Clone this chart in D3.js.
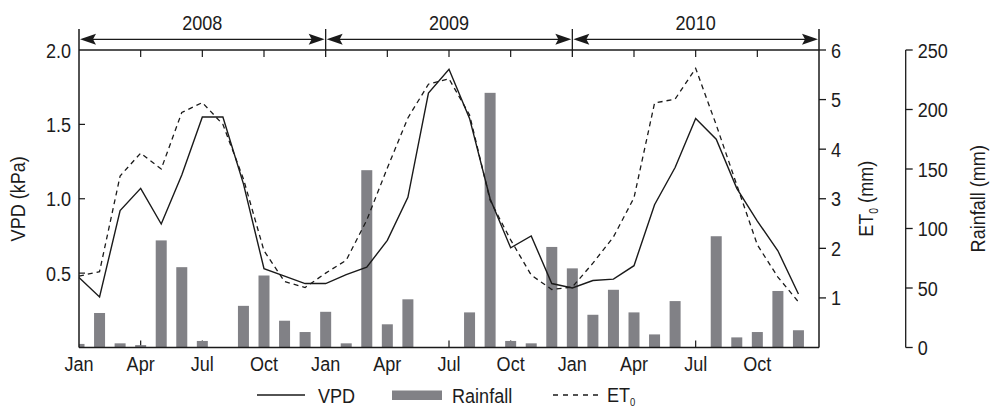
<!DOCTYPE html>
<html>
<head>
<meta charset="utf-8">
<script src="https://cdn.jsdelivr.net/npm/d3@7/dist/d3.min.js"></script>
<style>
  html, body { margin: 0; padding: 0; background: #fff; }
  svg text { font-family: "Liberation Sans", Arial, sans-serif; font-size: 21px; fill: #1c1c1c; }
</style>
</head>
<body>
<svg id="chart" width="990" height="407"></svg>
<script>
// Monthly climate record, Jan 2008 – Dec 2010
const years = ["2008", "2009", "2010"];
const monthTicks = ["Jan", "Apr", "Jul", "Oct"];

// Vapour pressure deficit (kPa)
const vpd = [
  0.47, 0.34, 0.92, 1.07, 0.83, 1.16, 1.55, 1.55, 1.10, 0.53, 0.48, 0.43,
  0.43, 0.49, 0.54, 0.72, 1.01, 1.71, 1.87, 1.54, 1.00, 0.67, 0.75, 0.43,
  0.40, 0.45, 0.46, 0.55, 0.96, 1.21, 1.54, 1.40, 1.07, 0.85, 0.65, 0.36
];

// Reference evapotranspiration (mm)
const et0 = [
  1.44, 1.53, 3.46, 3.92, 3.60, 4.74, 4.94, 4.50, 3.40, 1.95, 1.33, 1.21,
  1.50, 1.76, 2.57, 3.62, 4.63, 5.31, 5.42, 4.69, 2.97, 2.17, 1.46, 1.17,
  1.22, 1.70, 2.23, 3.02, 4.93, 5.01, 5.63, 4.49, 3.28, 2.07, 1.42, 0.92
];

// Monthly rainfall (mm)
const rainfall = [
  3, 29, 3.5, 2, 90, 67.5, 5.5, 0, 35, 60.5, 22.5, 13,
  30, 3.5, 149, 19.5, 40.5, 0, 0, 29.5, 214, 5.5, 3.5, 84.5,
  66.5, 27.5, 48.5, 29.5, 11, 39, 0, 93.5, 8.5, 13, 47.5, 14.5
];

const vpdTicks = [0.5, 1.0, 1.5, 2.0];
const et0Ticks = [1, 2, 3, 4, 5, 6];
const rainTicks = [0, 50, 100, 150, 200, 250];

const svg = d3.select("#chart");
const L = 79, R = 819, T = 50, B = 347.5;
const ink = "#1a1a1a";
const narrow = 0.86; // horizontal squeeze for a condensed look

// places a condensed text label at (px, py), optionally rotated
function label(parent, px, py, txt, opts = {}) {
  const g = parent.append("g")
    .attr("transform", `translate(${px},${py}) rotate(${opts.rotate || 0}) scale(${narrow},1)`);
  const t = g.append("text")
    .attr("text-anchor", opts.anchor || "start")
    .attr("dy", opts.dy || null);
  if (opts.fontSize) t.attr("font-size", opts.fontSize);
  if (txt !== null) t.text(txt);
  return t;
}

const x = d3.scaleLinear().domain([0, 36]).range([L, R]);
const yVpd = d3.scaleLinear().domain([0, 2]).range([B, T]);
const yEt = d3.scaleLinear().domain([0, 6]).range([B, T]);
const yRain = d3.scaleLinear().domain([0, 250]).range([B, T]);

svg.append("clipPath").attr("id", "plot")
  .append("rect").attr("x", L).attr("y", T).attr("width", R - L).attr("height", B - T);

// inner quarter ticks along bottom and top edges
const quarters = d3.range(3, 36, 3);
svg.append("g").selectAll("line").data(quarters).join("line")
  .attr("x1", d => x(d)).attr("x2", d => x(d))
  .attr("y1", B).attr("y2", B - 7)
  .attr("stroke", ink).attr("stroke-width", 1.2);
svg.append("g").selectAll("line").data(quarters.filter(d => d % 12 !== 0)).join("line")
  .attr("x1", d => x(d)).attr("x2", d => x(d))
  .attr("y1", T).attr("y2", T + 7)
  .attr("stroke", ink).attr("stroke-width", 1.2);

// rainfall bars
const barW = 11;
svg.append("g").attr("clip-path", "url(#plot)")
  .selectAll("rect").data(rainfall).join("rect")
  .attr("x", (d, i) => x(i) - barW / 2)
  .attr("width", barW)
  .attr("y", d => yRain(d))
  .attr("height", d => B - yRain(d))
  .attr("fill", "#818186");

// VPD and ET0 lines
const vpdLine = d3.line().x((d, i) => x(i)).y(d => yVpd(d));
const etLine = d3.line().x((d, i) => x(i)).y(d => yEt(d));
svg.append("path").datum(et0).attr("d", etLine)
  .attr("fill", "none").attr("stroke", ink).attr("stroke-width", 1.3)
  .attr("stroke-dasharray", "5,4");
svg.append("path").datum(vpd).attr("d", vpdLine)
  .attr("fill", "none").attr("stroke", ink).attr("stroke-width", 1.4)
  .attr("stroke-linejoin", "miter");

// frame: bottom and top edges, side axes extended up to the year band
const frame = svg.append("g").attr("stroke", ink).attr("stroke-width", 1.5).attr("fill", "none");
frame.append("line").attr("x1", L).attr("x2", R).attr("y1", B).attr("y2", B);
frame.append("line").attr("x1", L).attr("x2", R).attr("y1", T).attr("y2", T);
frame.append("line").attr("x1", L).attr("x2", L).attr("y1", 29).attr("y2", B);
frame.append("line").attr("x1", R).attr("x2", R).attr("y1", 29).attr("y2", B);
svg.append("g").selectAll("line").data([12, 24]).join("line")
  .attr("x1", d => x(d)).attr("x2", d => x(d))
  .attr("y1", 29).attr("y2", T + 7)
  .attr("stroke", ink).attr("stroke-width", 1.3);

// year spans with double-headed arrows
const yArrow = 39.3, aLen = 16, aHalf = 5.5;
years.forEach((yr, k) => {
  const x0 = x(12 * k), x1 = x(12 * k + 12);
  const g = svg.append("g");
  g.append("line").attr("x1", x0 + 4).attr("x2", x1 - 4)
    .attr("y1", yArrow).attr("y2", yArrow).attr("stroke", ink).attr("stroke-width", 1.3);
  g.append("path")
    .attr("d", `M${x0 + 1},${yArrow} L${x0 + 1 + aLen},${yArrow - aHalf} L${x0 + 1 + aLen - 3},${yArrow} L${x0 + 1 + aLen},${yArrow + aHalf} Z`)
    .attr("fill", ink);
  g.append("path")
    .attr("d", `M${x1 - 1},${yArrow} L${x1 - 1 - aLen},${yArrow - aHalf} L${x1 - 1 - aLen + 3},${yArrow} L${x1 - 1 - aLen},${yArrow + aHalf} Z`)
    .attr("fill", ink);
  label(g, x(12 * k + 6), 29.5, yr, { anchor: "middle" });
});

// month labels
const monthG = svg.append("g");
d3.range(0, 36, 3).forEach(d => {
  label(monthG, x(d), 371, monthTicks[(d % 12) / 3], { anchor: "middle" });
});

// left VPD axis: inward ticks, labels outside
svg.append("g").selectAll("line").data(vpdTicks.slice(0, 3)).join("line")
  .attr("x1", L).attr("x2", L + 6)
  .attr("y1", d => yVpd(d)).attr("y2", d => yVpd(d))
  .attr("stroke", ink).attr("stroke-width", 1.2);
const vpdG = svg.append("g");
vpdTicks.forEach(d => {
  label(vpdG, L - 8, yVpd(d), d3.format(".1f")(d), { anchor: "end", dy: "0.36em" });
});
label(svg, 25, (T + B) / 2, "VPD (kPa)", { anchor: "middle", rotate: -90 });

// right ET0 axis
svg.append("g").selectAll("line").data(et0Ticks).join("line")
  .attr("x1", R).attr("x2", R + 7)
  .attr("y1", d => yEt(d)).attr("y2", d => yEt(d))
  .attr("stroke", ink).attr("stroke-width", 1.3);
const etG = svg.append("g");
et0Ticks.forEach(d => {
  label(etG, R + 12, yEt(d), String(d), { dy: "0.36em" });
});
const etLab = label(svg, 873, (T + B) / 2, null, { anchor: "middle", rotate: -90 });
etLab.append("tspan").text("ET");
etLab.append("tspan").attr("dy", 5).attr("font-size", 12).text("0");
etLab.append("tspan").attr("dy", -5).text(" (mm)");

// separate rainfall axis
const RX = 905.7;
svg.append("line").attr("x1", RX).attr("x2", RX).attr("y1", yRain(250)).attr("y2", yRain(0))
  .attr("stroke", ink).attr("stroke-width", 1.3);
svg.append("g").selectAll("line").data(rainTicks).join("line")
  .attr("x1", RX).attr("x2", RX + 7)
  .attr("y1", d => yRain(d)).attr("y2", d => yRain(d))
  .attr("stroke", ink).attr("stroke-width", 1.3);
const rainG = svg.append("g");
rainTicks.forEach(d => {
  label(rainG, RX + 12, yRain(d), String(d), { dy: "0.36em" });
});
label(svg, 985, (T + B) / 2, "Rainfall (mm)", { anchor: "middle", rotate: -90 });

// legend
const lg = svg.append("g");
const ly = 395;
lg.append("line").attr("x1", 257).attr("x2", 305).attr("y1", ly).attr("y2", ly)
  .attr("stroke", ink).attr("stroke-width", 1.4);
label(lg, 318, ly + 7.5, "VPD");
lg.append("rect").attr("x", 392).attr("y", ly - 4.5).attr("width", 50).attr("height", 9.5)
  .attr("fill", "#818186");
label(lg, 452, ly + 7.5, "Rainfall");
lg.append("line").attr("x1", 553).attr("x2", 599).attr("y1", ly).attr("y2", ly)
  .attr("stroke", ink).attr("stroke-width", 1.3).attr("stroke-dasharray", "5,5");
const etLeg = label(lg, 607, ly + 7, null);
etLeg.append("tspan").text("ET");
etLeg.append("tspan").attr("dy", 4).attr("font-size", 11).text("0");
</script>
</body>
</html>
